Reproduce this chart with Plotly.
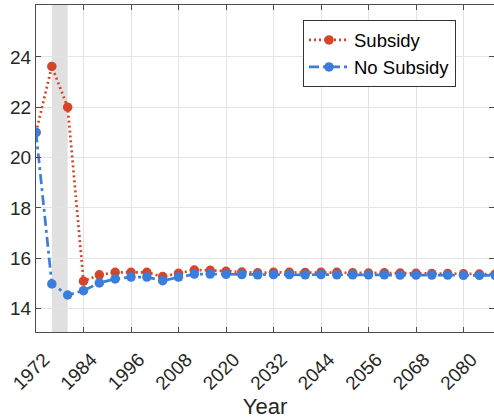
import plotly.graph_objects as go

years = [1972, 1976, 1980, 1984, 1988, 1992, 1996, 2000, 2004, 2008,
         2012, 2016, 2020, 2024, 2028, 2032, 2036, 2040, 2044, 2048,
         2052, 2056, 2060, 2064, 2068, 2072, 2076, 2080, 2084, 2088]
subsidy = [21.0, 23.62, 22.0, 15.09, 15.34, 15.44, 15.44, 15.44, 15.27, 15.40,
           15.53, 15.52, 15.48, 15.45, 15.42, 15.44, 15.44, 15.43, 15.44, 15.44,
           15.42, 15.41, 15.42, 15.41, 15.40, 15.39, 15.39, 15.38, 15.37, 15.37]
no_subsidy = [21.0, 14.98, 14.54, 14.71, 15.02, 15.18, 15.25, 15.25, 15.11, 15.25,
              15.37, 15.37, 15.36, 15.35, 15.34, 15.35, 15.35, 15.34, 15.35, 15.34,
              15.34, 15.34, 15.34, 15.33, 15.33, 15.33, 15.33, 15.32, 15.32, 15.32]
shade_start, shade_end = 1976, 1980
x_ticks = [1972, 1984, 1996, 2008, 2020, 2032, 2044, 2056, 2068, 2080]
y_ticks = [14, 16, 18, 20, 22, 24]

red = "#D4452A"
blue = "#3B7DDD"
font = "Liberation Sans, Arial, sans-serif"

fig = go.Figure()
fig.add_vrect(x0=shade_start, x1=shade_end, fillcolor="#E0E0E0", opacity=1,
              line_width=0, layer="below")
fig.add_trace(go.Scatter(x=years, y=subsidy, name="Subsidy", mode="lines+markers",
                         line=dict(color=red, width=2.7, dash="2px,3px"),
                         marker=dict(color=red, size=9.5)))
fig.add_trace(go.Scatter(x=years, y=no_subsidy, name="No Subsidy", mode="lines+markers",
                         line=dict(color=blue, width=2.7, dash="10px,4px,3px,4px"),
                         marker=dict(color=blue, size=9.5)))

axis_common = dict(showgrid=True, gridcolor="#E3E3E3", gridwidth=1,
                   showline=True, linecolor="#4D4D4D", linewidth=1, mirror="ticks",
                   ticks="inside", ticklen=5, tickcolor="#4D4D4D",
                   tickfont=dict(family=font, size=19, color="#262626"),
                   zeroline=False, automargin=False)

fig.update_xaxes(range=[1972, 2087.7], tickvals=x_ticks, tickangle=-45,
                 ticklabelshift=8, ticklabelstandoff=8,
                 title=dict(text="Year", font=dict(family=font, size=22, color="#262626"),
                            standoff=4),
                 **axis_common)
fig.update_yaxes(range=[13.07, 26.06], tickvals=y_ticks, **axis_common)

fig.update_layout(
    width=494, height=419,
    margin=dict(l=36, r=0, t=5, b=87),
    plot_bgcolor="white", paper_bgcolor="white",
    font=dict(family=font, color="#262626"),
    legend=dict(x=0.583, y=0.953, xanchor="left", yanchor="top",
                bgcolor="white", bordercolor="#333333", borderwidth=1,
                font=dict(family=font, size=18.5, color="#000000"),
                itemwidth=40, tracegroupgap=0),
    showlegend=True,
)

fig.write_html("out.html", config={"displayModeBar": False},
               post_script="document.body.style.margin='0';document.body.style.overflow='hidden';")
